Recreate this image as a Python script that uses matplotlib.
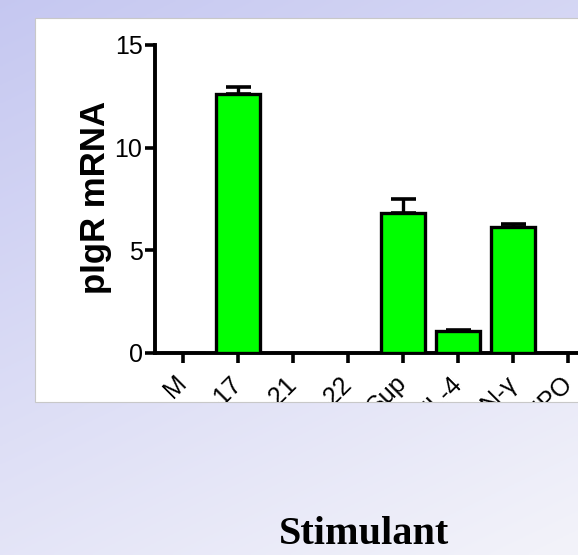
import numpy as np
import matplotlib.pyplot as plt
from matplotlib.patches import Rectangle
from matplotlib.transforms import Bbox, TransformedBbox

# data
stimulants = ["M", "IL-17", "IL-21", "IL-22", "Sup", "IL-4", "IFN-\u03b3", "EPO"]
pigr_mrna = [0, 12.6, 0, 0, 6.8, 1.07, 6.13, 0]
pigr_err = [0, 0.35, 0, 0, 0.7, 0.06, 0.15, 0]
yticks = [0, 5, 10, 15]

W, H = 578, 555
fig = plt.figure(figsize=(W / 100, H / 100), dpi=100)

# lavender slide background
bg = fig.add_axes([0, 0, 1, 1], zorder=-10)
yy, xx = np.mgrid[0:1:200j, 0:1:200j]
t = np.clip(0.12 + 0.6 * yy + 0.3 * xx, 0, 1)
lav = np.array([0.75, 0.76, 0.94])
wht = np.array([0.95, 0.95, 0.98])
img = lav[None, None, :] * (1 - t[..., None]) + wht[None, None, :] * t[..., None]
bg.imshow(img, aspect="auto", extent=[0, 1, 0, 1], origin="upper")
bg.set_xlim(0, 1)
bg.set_ylim(0, 1)
bg.axis("off")

# white panel holding the graph
px0, py0, px1, py1 = 35 / W, 1 - 402 / H, 1.02, 1 - 18 / H
panel = Rectangle((px0, py0), px1 - px0, py1 - py0, transform=fig.transFigure,
                  facecolor="white", edgecolor="#c8c8c8", linewidth=0.8, zorder=-5)
fig.add_artist(panel)

# axes: y axis at x=155px, 0 at y=353px, 15 at y=45px, 55px per category
left = 155 / W
x_lo = -28 / 55
x_hi = 8.0
ax = fig.add_axes([left, 1 - 353 / H, (x_hi - x_lo) * 55 / W, 308 / H])
ax.patch.set_alpha(0)

x = np.arange(len(stimulants))
has_err = np.array(pigr_err) > 0
ax.bar(x, pigr_mrna, width=0.8, color="#00ff00", edgecolor="black", linewidth=2.4, zorder=3)
ax.errorbar(x[has_err], np.array(pigr_mrna)[has_err],
            yerr=[np.zeros(has_err.sum()), np.array(pigr_err)[has_err]],
            fmt="none", ecolor="black", elinewidth=2.4, capsize=9, capthick=2.6, zorder=2)

ax.set_xlim(x_lo, x_hi)
ax.set_ylim(0, 15)
ax.set_yticks(yticks)
ax.set_xticks(x)
ax.set_xticklabels(stimulants, rotation=45, ha="right", va="center", rotation_mode="anchor")
for s in ["top", "right"]:
    ax.spines[s].set_visible(False)
ax.spines["left"].set_linewidth(2.8)
ax.spines["bottom"].set_linewidth(2.8)
ax.tick_params(axis="both", width=2.6, length=7, labelsize=18, direction="out")
ax.tick_params(axis="y", pad=2)
ax.tick_params(axis="x", pad=12)
for lab in ax.get_yticklabels() + ax.get_xticklabels():
    lab.set_fontfamily("Liberation Sans")

clip = TransformedBbox(Bbox([[px0, py0], [px1, py1]]), fig.transFigure)
for tk in ax.xaxis.get_major_ticks():
    tk.label1.set_clip_box(clip)
    tk.label1.set_clip_on(True)

fig.text(96 / W, 1 - 197 / H, "pIgR mRNA", rotation=90, ha="center", va="center",
         fontsize=25, fontweight="bold", family="Liberation Sans")

fig.text(364 / W, 1 - 534 / H, "Stimulant", ha="center", va="center",
         fontsize=29, fontweight="bold", family="Liberation Serif")

fig.savefig("out.png", dpi=100)
